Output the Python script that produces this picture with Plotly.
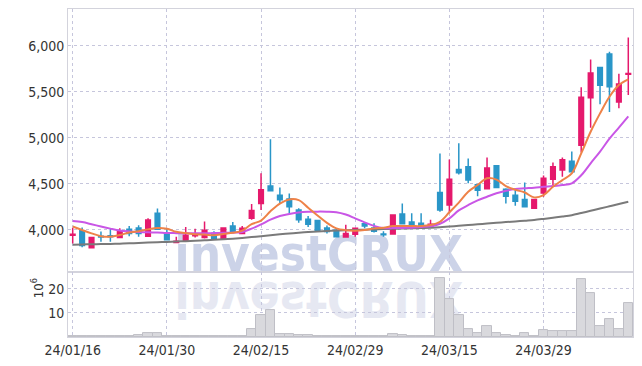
import plotly.graph_objects as go

dates = [
    "2024-01-16", "2024-01-17", "2024-01-18", "2024-01-19", "2024-01-22", "2024-01-23", "2024-01-24", "2024-01-25",
    "2024-01-26", "2024-01-29", "2024-01-30", "2024-01-31", "2024-02-01", "2024-02-02", "2024-02-05", "2024-02-06",
    "2024-02-07", "2024-02-08", "2024-02-13", "2024-02-14", "2024-02-15", "2024-02-16", "2024-02-19", "2024-02-20",
    "2024-02-21", "2024-02-22", "2024-02-23", "2024-02-26", "2024-02-27", "2024-02-28", "2024-02-29", "2024-03-04",
    "2024-03-05", "2024-03-06", "2024-03-07", "2024-03-08", "2024-03-11", "2024-03-12", "2024-03-13", "2024-03-14",
    "2024-03-15", "2024-03-18", "2024-03-19", "2024-03-20", "2024-03-21", "2024-03-22", "2024-03-25", "2024-03-26",
    "2024-03-27", "2024-03-28", "2024-03-29", "2024-04-01", "2024-04-02", "2024-04-03", "2024-04-04", "2024-04-05",
    "2024-04-08", "2024-04-09", "2024-04-11", "2024-04-12",
]

open_ = [3940, 3990, 3805, 3930, 3935, 3915, 4005, 4020, 3930, 4180,
         3965, 3860, 3875, 3935, 3915, 3960, 3905, 4040, 3960, 4125,
         4285, 4475, 4375, 4335, 4215, 4115, 4100, 4020, 3995, 3920,
         3950, 4065, 4020, 3955, 3955, 4170, 4085, 4070, 4035, 4405,
         4270, 4655, 4685, 4490, 4445, 4695, 4440, 4375, 4330, 4235,
         4400, 4550, 4650, 4745, 4920, 5435, 5765, 5910, 5390, 5690]
high = [4020, 4025, 3920, 3980, 4010, 4015, 4040, 4050, 4125, 4230,
        4020, 3925, 4030, 4010, 4090, 3985, 4025, 4085, 4040, 4280,
        4615, 4985, 4460, 4395, 4235, 4150, 4100, 4045, 4015, 4055,
        4020, 4085, 4070, 3985, 4160, 4285, 4180, 4180, 4110, 4830,
        4765, 4940, 4775, 4500, 4785, 4700, 4450, 4440, 4515, 4330,
        4590, 4730, 4785, 4850, 5550, 5850, 5770, 5935, 5695, 6090]
low = [3850, 3810, 3800, 3870, 3870, 3910, 3930, 3925, 3925, 4000,
       3885, 3855, 3870, 3915, 3905, 3900, 3900, 3975, 3955, 4110,
       4215, 4420, 4290, 4180, 4075, 4030, 3985, 3960, 3920, 3915,
       3925, 4015, 3970, 3925, 3950, 4060, 4015, 4025, 4025, 4195,
       4180, 4600, 4505, 4365, 4440, 4455, 4285, 4260, 4245, 4230,
       4360, 4485, 4575, 4625, 4840, 5110, 5365, 5280, 5320, 5465]
close = [3950, 3830, 3915, 3920, 3925, 3985, 3960, 3960, 4105, 4005,
         3890, 3875, 3940, 3955, 3995, 3905, 4020, 3980, 4015, 4210,
         4435, 4425, 4325, 4250, 4110, 4060, 3990, 3980, 3925, 3960,
         4015, 4040, 3985, 3945, 4160, 4065, 4020, 4030, 4060, 4215,
         4550, 4620, 4540, 4430, 4670, 4460, 4365, 4310, 4250, 4330,
         4560, 4685, 4760, 4630, 5440, 5705, 5570, 5555, 5585, 5700]

ma_short = [4035, 3997, 3961, 3930, 3924, 3942, 3970, 3984, 4004, 4018,
            4010, 3978, 3964, 3950, 3948, 3940, 3955, 3967, 3990, 4060,
            4100, 4200, 4285, 4330, 4322, 4240, 4155, 4075, 4015, 3995,
            3990, 3997, 4015, 4022, 4040, 4040, 4040, 4040, 4051, 4087,
            4190, 4295, 4413, 4486, 4559, 4545, 4475, 4435, 4405, 4352,
            4377, 4467, 4540, 4613, 4830, 5065, 5265, 5446, 5573, 5635]
ma_mid = [4095, 4083, 4060, 4035, 4012, 3992, 3982, 3976, 3972, 3970,
          3965, 3963, 3962, 3962, 3962, 3964, 3966, 3968, 3976, 4012,
          4058, 4110, 4150, 4172, 4188, 4195, 4197, 4196, 4190, 4165,
          4124, 4080, 4042, 4018, 4018, 4020, 4022, 4030, 4038, 4065,
          4124, 4210, 4268, 4320, 4359, 4396, 4424, 4442, 4450, 4457,
          4467, 4475, 4486, 4505, 4592, 4722, 4850, 4990, 5110, 5232]
ma_long = [3838, 3840, 3842, 3844, 3846, 3849, 3852, 3856, 3860, 3864,
           3868, 3872, 3876, 3880, 3885, 3890, 3896, 3903, 3911, 3920,
           3930, 3940, 3950, 3960, 3968, 3975, 3982, 3987, 3991, 3995,
           3998, 4001, 4004, 4007, 4010, 4013, 4016, 4019, 4022, 4027,
           4035, 4043, 4051, 4059, 4067, 4075, 4083, 4091, 4099, 4107,
           4118, 4130, 4143, 4158, 4182, 4206, 4230, 4255, 4280, 4304]

volume_m = [0.6, 0.5, 0.3, 0.2, 0.2, 0.2, 0.2, 0.7, 1.5, 1.5,
            0.5, 0.2, 0.5, 0.2, 0.5, 0.2, 0.5, 0.2, 0.3, 3.5,
            9.0, 11.4, 1.4, 1.4, 1.0, 1.0, 0.6, 0.3, 0.5, 0.5,
            0.3, 0.3, 0.6, 0.2, 1.4, 1.0, 0.5, 0.5, 0.6, 24.4,
            15.8, 9.0, 3.5, 1.5, 4.4, 1.5, 1.0, 0.6, 1.5, 0.6,
            2.9, 2.4, 2.4, 2.4, 24.0, 18.2, 4.4, 7.3, 3.3, 14.2]

idx = list(range(len(dates)))
tick_idx = idx[::10]
tick_text = [dates[i][2:].replace("-", "/") for i in tick_idx]
price_ticks = [4000, 4500, 5000, 5500, 6000]
vol_ticks = [10, 20]

UP = "#e5196c"
DOWN = "#2a96c8"
GRID = "#c6c6dc"
FRAME = "#d3d3dc"
FONT = "DejaVu Sans Condensed, Liberation Sans, sans-serif"

fig = go.Figure()
fig.add_trace(go.Candlestick(
    x=idx, open=open_, high=high, low=low, close=close,
    increasing=dict(line=dict(color=UP, width=1.5), fillcolor=UP),
    decreasing=dict(line=dict(color=DOWN, width=1.5), fillcolor=DOWN),
    xaxis="x", yaxis="y", showlegend=False,
))
fig.add_trace(go.Scatter(x=idx, y=ma_long, mode="lines", line=dict(color="#7a7a7a", width=2, shape="spline"),
                         xaxis="x", yaxis="y", showlegend=False))
fig.add_trace(go.Scatter(x=idx, y=ma_mid, mode="lines", line=dict(color="#c956e6", width=2, shape="spline"),
                         xaxis="x", yaxis="y", showlegend=False))
fig.add_trace(go.Scatter(x=idx, y=ma_short, mode="lines", line=dict(color="#ee8248", width=2, shape="spline"),
                         xaxis="x", yaxis="y", showlegend=False))
fig.add_trace(go.Bar(x=idx, y=volume_m, marker=dict(color="#d9d9dd", line=dict(color="#bfbfc6", width=1)),
                     xaxis="x2", yaxis="y2", showlegend=False))

VD = 0.198
common_x = dict(tickmode="array", tickvals=tick_idx, showgrid=True,
                gridcolor=GRID, griddash="dot", gridwidth=1, showline=True, linecolor=FRAME,
                mirror=True, ticks="", zeroline=False, range=[-0.5, 59.5], automargin=False)
common_y = dict(showgrid=True, gridcolor=GRID, griddash="dot", showline=True, linecolor=FRAME,
                mirror=True, zeroline=False, ticks="", automargin=False, tickfont=dict(size=14))
fig.update_layout(
    width=642, height=366,
    margin=dict(l=68, r=9, t=9, b=29),
    paper_bgcolor="white", plot_bgcolor="rgba(0,0,0,0)",
    font=dict(family=FONT, size=14, color="#333333"),
    bargap=0,
    xaxis=dict(common_x, domain=[0, 1], anchor="y", showticklabels=False, rangeslider=dict(visible=False)),
    xaxis2=dict(common_x, domain=[0, 1], anchor="y2", ticktext=tick_text, tickfont=dict(size=14)),
    yaxis=dict(common_y, domain=[VD, 1], range=[3540, 6400], tickvals=price_ticks, tickformat=",d"),
    yaxis2=dict(common_y, domain=[0, VD], range=[0, 27], tickvals=vol_ticks),
    shapes=[
        dict(type="rect", xref="paper", yref="paper", x0=0.144, x1=0.744, y0=0.163, y1=0.363,
             line=dict(width=0), fillcolor="rgba(0,0,0,0)", layer="below",
             label=dict(text="investCRUX", font=dict(family=FONT, size=49, color="#ccd3e8", weight="bold"),
                        textposition="middle center")),
        dict(type="rect", xref="paper", yref="paper", x0=0.144, x1=0.744, y0=0.031, y1=0.231,
             line=dict(width=0), fillcolor="rgba(0,0,0,0)", layer="below",
             label=dict(text="investCRUX", font=dict(family=FONT, size=49, color="#e6e8f2", weight="bold"),
                        textposition="middle center")),
    ],
    annotations=[
        dict(text="10<sup>6</sup>", xref="paper", yref="paper", x=-0.072, y=0.113, showarrow=False,
             textangle=-90, font=dict(family=FONT, size=13, color="#333333")),
    ],
)

post = """
document.body.style.margin = '0';
document.documentElement.style.margin = '0';
setTimeout(function(){
  var found = [];
  document.querySelectorAll('text').forEach(function(t){
    if (t.textContent === 'investCRUX') found.push(t);
  });
  if (found.length > 1) {
    var t = found[1];
    var b = t.getBBox();
    var cy = b.y + b.height / 2;
    var prev = t.getAttribute('transform') || '';
    t.setAttribute('transform', 'translate(0,' + (2 * cy) + ') scale(1,-1) ' + prev);
  }
}, 0);
"""
fig.write_html("out.html", post_script=post, config={"displayModeBar": False})
